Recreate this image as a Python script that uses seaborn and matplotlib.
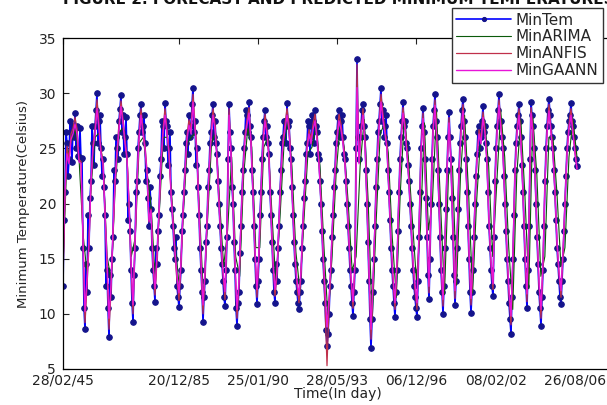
import numpy as np
import pandas as pd
import matplotlib
matplotlib.use("Agg")
import matplotlib.pyplot as plt
import seaborn as sns

# ---------------- data ----------------
tick_labels = ["28/02/45", "20/12/85", "25/01/90", "28/05/93", "06/12/96", "08/02/02", "26/08/06"]
tick_pos = [0, 116, 195, 274, 353, 433, 512]
t_end = 514  # last observed time step

min_tem = [
    12.5, 18.5, 21, 26.5, 25.5, 22.5, 24, 27.5, 26.5, 23.8, 27, 26, 28.2, 25, 27, 24.3, 24.2, 26.8, 24, 24.1,
    16, 10.5, 8.6, 14.5, 12, 19, 16, 20.5, 22, 27, 25.5, 23.5, 27, 28.5, 30, 25.5, 27.5, 28, 25, 22.5,
    24, 21.5, 19, 12.5, 14, 10.5, 7.9, 13.5, 11.5, 15, 17, 23, 22, 26, 25, 24, 27.5, 28.6, 29.8, 26.5,
    28, 24.5, 26, 27.8, 24.5, 18.5, 20, 17.5, 14, 11, 9.3, 13.5, 16, 21, 22, 25, 26.5, 28, 29, 26.5,
    27, 28, 25.5, 22, 23, 20.5, 18, 21.5, 19.5, 16, 14, 12.5, 11.1, 16, 14.5, 17.5, 19, 22.5, 24, 27.5,
    27, 25, 29.1, 27.5, 27, 23.5, 25, 26.5, 21, 19.5, 18, 16, 15, 17, 12.5, 11.5, 10.6, 12.5, 14, 17.5,
    19, 21, 23, 25.5, 26.5, 24.5, 28, 26, 27, 29, 30.5, 26.5, 27.5, 23.5, 25, 21.5, 19, 16, 14, 12,
    9.3, 11.5, 13, 16.5, 18, 21.5, 23, 25.5, 26.5, 28, 29, 26, 27.5, 25.5, 24.5, 22, 20, 18, 16, 14.5,
    13, 11.5, 10.7, 14, 17, 24, 29, 26.5, 25, 21.5, 20, 16.5, 14, 10.5, 8.9, 11, 12, 15.5, 18, 21,
    23, 25, 26.5, 28.5, 28, 26.5, 29.2, 27, 26, 23, 21, 18, 15, 12.5, 10.9, 13, 15, 19, 21, 24,
    26, 27.5, 28.5, 26, 27, 25.5, 24.5, 21, 19, 16.5, 14, 12, 11, 14.5, 13, 16, 18, 21, 23, 25.5,
    26, 27.5, 27.5, 25.5, 29.1, 27, 27.5, 25, 24, 21.5, 19, 16.5, 14.5, 13, 12, 11, 10.4, 12, 13, 16,
    18, 20.5, 22, 24.5, 25.5, 27.5, 27, 24.5, 26, 28, 27.5, 25.5, 28.5, 27, 26.5, 24.5, 24, 22, 20, 17.5,
    15, 13, 11, 8.5, 7.1, 8.2, 10, 12.5, 14, 17, 19, 21.5, 23, 25.5, 26.5, 27.8, 28.5, 26, 27.5, 28,
    26, 24.5, 24, 22, 20, 18, 16, 14, 12.5, 11, 9.8, 12, 14, 25, 33.1, 26, 24, 26, 27, 28.5,
    29, 27, 26, 23, 20, 16.5, 13, 9.5, 6.9, 9.5, 12, 15, 18, 21.5, 24, 26.5, 27.5, 29, 30.5, 27.5,
    28.5, 26, 27, 28, 25.5, 23, 21, 18.5, 16, 14, 12.5, 11, 9.7, 12, 14, 17.5, 21, 24, 26, 27.5,
    29.2, 27, 27.5, 25.5, 25, 23.5, 22, 20, 18, 16, 14, 12.5, 11.5, 10.5, 9.7, 13, 17, 21, 25, 27,
    28.7, 26.5, 24, 20.5, 17, 13.5, 11.3, 15, 20, 24, 27, 28.5, 29.9, 27.5, 26, 23, 20, 17, 14, 12,
    10, 12.5, 16, 19.5, 23, 26, 28.3, 26, 24, 20.5, 17, 13.5, 10.8, 13, 16, 19.5, 23, 25.5, 27, 28.5,
    29.5, 27.5, 26, 24, 21, 18, 15, 12, 10.1, 12, 14, 17, 20, 22.5, 24.5, 26.5, 27, 25, 26, 27.5,
    28.8, 26.5, 27, 25.5, 24, 21, 18, 16, 14, 12.5, 11.6, 17, 22, 25, 27, 28.5, 29.9, 27.5, 27.5, 26,
    25, 22.5, 20, 17.5, 15, 13, 11, 9.5, 8.2, 11.5, 15, 19, 23, 25.5, 27, 28, 29, 27.5, 26, 23.5,
    21, 18, 15, 12.5, 10.5, 14, 18, 24, 29.2, 28, 27, 25, 23, 20, 17, 14.5, 12, 10.5, 8.9, 11.5,
    14, 18, 22, 25, 27, 28.5, 29.5, 28, 27, 26, 25, 23, 21, 18.5, 16, 14.5, 13, 11.5, 10.9, 13,
    15, 17.5, 20, 22.5, 25, 26.5, 27.5, 28, 29.1, 27.5, 27, 26, 25, 24, 23.4,
]

min_gaann = [
    14, 21, 24.5, 23.6, 25.8, 26.3, 27.2, 26.3, 23.8, 23.6,
    16.8, 10.2, 13.2, 16.6, 21.9, 24.9, 26.3, 28.6, 26.7, 24.5,
    23.6, 19.3, 14.8, 9.6, 12.7, 17.5, 21.8, 24.5, 26.7, 28.8,
    27.2, 25.4, 24, 20.1, 14.8, 10.8, 16.6, 21.9, 25.8, 28,
    26.3, 24.9, 22.8, 18.4, 19.4, 14.8, 12.3, 15.3, 19.2, 23.6,
    26.3, 28, 26.3, 24.5, 21, 18.4, 15.7, 13.5, 11.9, 14.8,
    19.2, 22.8, 25.8, 27.1, 26.3, 29.2, 26.7, 24.5, 19.2, 14.8,
    10.8, 13.9, 18.4, 22.8, 25.8, 28, 26.7, 24, 20.1, 16.6,
    13.9, 12, 17.5, 28, 24.5, 20.1, 14.8, 10.4, 13, 18.4,
    22.8, 25.8, 27.1, 28.2, 25.4, 21, 15.7, 12.2, 15.7, 21,
    25.4, 27.5, 26.3, 24, 19.2, 14.8, 12.2, 13.9, 18.4, 22.8,
    25.4, 26.7, 28, 26.7, 23.6, 19.2, 15.3, 13, 11.7, 13.9,
    18.4, 21.9, 24.9, 26.3, 25.4, 26.7, 27.5, 25.8, 23.6, 20.1,
    15.7, 12.2, 8.8, 11.3, 14.8, 19.2, 22.8, 25.8, 27.5, 26.7,
    25.4, 23.6, 20.1, 16.6, 13.5, 11.1, 14.8, 30.5, 23.6, 26.3,
    28, 25.4, 20.1, 13.9, 8.6, 13, 18.4, 23.6, 26.7, 29.2,
    27.5, 26.3, 24.9, 21, 16.6, 13.5, 11, 14.8, 21, 25.4,
    28.2, 26.7, 24.5, 21.9, 18.4, 14.8, 12.7, 11, 17.5, 24.5,
    27.7, 23.6, 17.5, 12.5, 20.1, 26.3, 28.9, 25.4, 20.1, 14.8,
    11.3, 16.6, 22.8, 27.3, 23.6, 17.5, 12.1, 16.6, 22.8, 26.3,
    28.4, 25.4, 21, 15.7, 11.4, 14.8, 20.1, 24.1, 26.3, 25.4,
    27.8, 26.3, 23.6, 18.4, 14.8, 12.7, 21.9, 26.3, 28.9, 26.7,
    24.5, 20.1, 15.7, 12.2, 9.8, 15.7, 22.8, 26.3, 28, 25.4,
    21, 15.7, 11.8, 18.4, 28.2, 26.3, 22.8, 17.5, 13, 10.4,
    14.8, 21.9, 26.3, 28.4, 26.3, 24.5, 21, 16.6, 13.9, 12.1,
    15.7, 20.1, 24.5, 26.7, 28, 26.3, 24.5, 23.1,
]

min_anfis = [
    13, 21, 25.2, 24, 26.3, 26.8, 27.8, 26.8, 24, 23.8,
    16.3, 9.2, 12.5, 16.2, 22, 25.3, 26.8, 29.4, 27.2, 24.8,
    23.8, 19.2, 14.3, 8.6, 12, 17.2, 22, 24.8, 27.2, 29.3,
    27.6, 25.8, 24.3, 20, 14.4, 10, 16.3, 22, 26.2, 28.6,
    26.7, 25.3, 23, 18.3, 19.5, 14.4, 11.7, 14.8, 19.1, 23.8,
    26.7, 28.6, 26.7, 24.8, 21, 18.2, 15.3, 13, 11.2, 14.4,
    19.1, 23, 26.2, 27.6, 26.7, 29.9, 27.2, 24.8, 19.1, 14.4,
    10, 13.5, 18.2, 23, 26.2, 28.6, 27.2, 24.3, 20, 16.3,
    13.5, 11.3, 17.2, 28.6, 24.8, 20, 14.4, 9.6, 12.5, 18.2,
    23, 26.2, 27.6, 28.7, 25.8, 21, 15.3, 11.5, 15.3, 21,
    25.8, 28.1, 26.7, 24.3, 19.1, 14.4, 11.6, 13.5, 18.2, 23,
    25.8, 27.2, 28.6, 27.2, 23.8, 19.1, 14.9, 12.5, 11, 13.5,
    18.2, 22, 25.3, 26.7, 25.8, 27.2, 28.1, 26.2, 23.8, 20,
    15.3, 11, 5.3, 10.6, 14.4, 19.1, 23, 26.2, 28.1, 27.2,
    25.8, 23.8, 20, 16.3, 13, 10.5, 14.4, 32.6, 23.8, 26.7,
    28.6, 25.8, 20, 13.5, 7.7, 12.5, 18.2, 23.8, 27.2, 29.9,
    28.1, 26.7, 25.3, 21, 16.3, 13, 10.4, 14.4, 21, 25.8,
    28.7, 27.2, 24.8, 22, 18.2, 14.4, 12, 10.4, 17.2, 24.8,
    28.2, 23.8, 17.2, 11.9, 20, 26.7, 29.4, 25.8, 20, 14.4,
    10.7, 16.3, 23, 27.8, 23.8, 17.2, 11.4, 16.3, 23, 26.7,
    29, 25.8, 21, 15.3, 10.8, 14.4, 20, 24.3, 26.7, 25.8,
    28.3, 26.7, 23.8, 18.2, 14.4, 12.2, 22, 26.7, 29.4, 27.2,
    24.8, 20, 15.3, 11.6, 9, 15.3, 23, 26.7, 28.6, 25.8,
    21, 15.3, 11.1, 18.2, 28.7, 26.7, 23, 17.2, 12.5, 9.6,
    14.4, 22, 26.7, 29, 26.7, 24.8, 21, 16.3, 13.5, 11.5,
    15.3, 20, 24.8, 27.2, 28.6, 26.7, 24.8, 23.2,
]

min_arima = [
    14.3, 24.2, 25.5, 26.8, 24, 17.2, 13.6, 21.5, 26, 26.4,
    23.4, 15.2, 13, 21.5, 26.4, 26.9, 23.8, 15.2, 16.9, 25.5,
    26, 22.6, 19.5, 12.8, 19.3, 26, 26, 21, 16, 12.3,
    19.3, 25.5, 26, 26.4, 19.3, 11.3, 18.5, 25.5, 26.4, 20.2,
    14.3, 17.6, 24.2, 15.2, 13.4, 22.6, 26.8, 25.1, 16, 16,
    25.1, 26, 19.3, 12.7, 18.5, 25.1, 27.6, 23.4, 15.6, 12.1,
    18.5, 24.6, 25.1, 27.1, 23.4, 16, 9.5, 15.2, 22.6, 27.1,
    25.1, 20.2, 13.9, 15.2, 23.4, 27.6, 20.2, 9.3, 18.5, 26.4,
    27.1, 24.6, 16.9, 11.5, 21, 27.8, 24.2, 18.5, 13.1, 17.6,
    27.3, 17.6, 20.2, 28.4, 20.2, 11.8, 22.6, 23.4, 12.6, 22.6,
    28, 21, 11.9, 20.2, 26, 27.4, 23.4, 15.2, 21.7, 28.4,
    24.2, 16, 10.4, 22.6, 27.6, 21, 12.3, 27.8, 22.6, 13.4,
    15.2, 26, 26, 21, 14.3, 16, 24.2, 27.6, 24.2,
]

# ---------------- figure ----------------
sns.set_style("white")
plt.rcParams["font.family"] = ["DejaVu Sans"]

W, H = 607, 405
fig = plt.figure(figsize=(W / 100, H / 100), dpi=100)
ax = fig.add_axes([63 / W, 36 / H, (612 - 63) / W, (369 - 38) / H])


def frame(vals):
    return pd.DataFrame({"t": np.linspace(0, t_end, len(vals)), "v": vals})


sns.lineplot(data=frame(min_tem), x="t", y="v", ax=ax, estimator=None, sort=False,
             color="#0000ff", linewidth=1.2, marker=".", markersize=8,
             markerfacecolor="#14148c", markeredgecolor="#14148c",
             label="MinTem")
sns.lineplot(data=frame(min_arima), x="t", y="v", ax=ax, estimator=None, sort=False,
             color="#0a5a0a", linewidth=0.8, label="MinARIMA")
sns.lineplot(data=frame(min_anfis), x="t", y="v", ax=ax, estimator=None, sort=False,
             color="#c0304a", linewidth=0.9, label="MinANFIS")
sns.lineplot(data=frame(min_gaann), x="t", y="v", ax=ax, estimator=None, sort=False,
             color="#e814d8", linewidth=1.0, label="MinGAANN")

ax.set_xlim(0, 549)
ax.set_ylim(5, 35)
ax.set_yticks([5, 10, 15, 20, 25, 30, 35])
ax.set_xticks(tick_pos)
ax.set_xticklabels(tick_labels)
ax.tick_params(axis="both", direction="in", length=4, width=0.8,
               labelsize=10, colors="#222222")
ax.tick_params(axis="x", top=True, pad=3)
ax.tick_params(axis="y", left=True, pad=5)
for s in ax.spines.values():
    s.set_color("black")
    s.set_linewidth(0.9)

ax.set_xlabel("Time(In day)", fontsize=10, labelpad=0, color="#222222")
ax.set_ylabel("Minimum Temperature(Celsius)", fontsize=9.5, labelpad=6, color="#222222")

leg = ax.legend(loc="upper right", bbox_to_anchor=(603 / W, 1 - 8 / H),
                bbox_transform=fig.transFigure, fontsize=11, frameon=True,
                fancybox=False, framealpha=1, edgecolor="#333333",
                handlelength=3.6, handletextpad=0.3, labelspacing=0.12,
                borderpad=0.3, borderaxespad=0, numpoints=1)
leg.get_frame().set_linewidth(1.0)
for h in leg.legend_handles:
    h.set_markersize(6)

fig.text(339 / W, 1 + 1 / H, "FIGURE 2. FORECAST AND PREDICTED MINIMUM TEMPERATURES",
         ha="center", va="center", fontsize=11, fontweight="bold", color="#111111")

fig.savefig("out.png", dpi=100, facecolor="white")
